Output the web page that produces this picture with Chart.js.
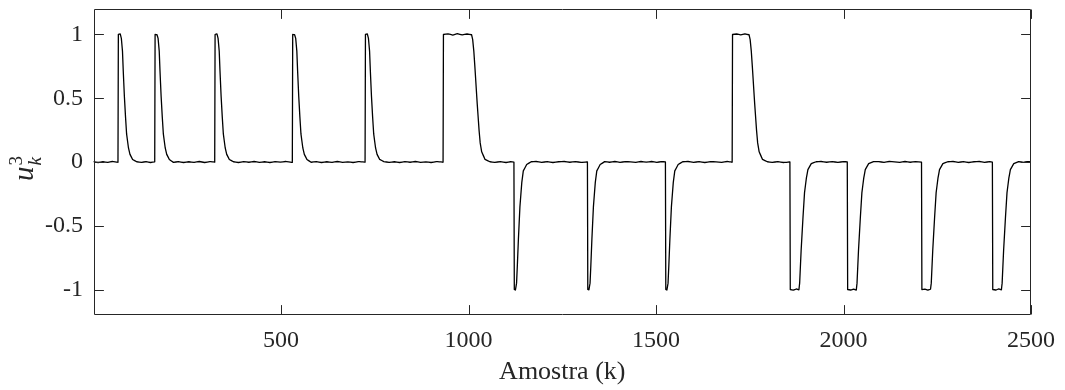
<!DOCTYPE html>
<html>
<head>
<meta charset="utf-8">
<script src="https://cdn.jsdelivr.net/npm/chart.js@4.4.1/dist/chart.umd.min.js"></script>
<style>
  html, body { margin: 0; padding: 0; background: #fff; }
  #plot { display: block; }
</style>
</head>
<body>
<canvas id="plot" width="1065" height="390"></canvas>
<script>
// Sample index k (one line per segment)
const amostraK = [
    0, 12, 25, 38, 50, 65,
    66, 71, 74, 77, 79, 82, 85, 88, 93, 97, 104, 115,
    128, 140, 152, 163,
    164, 169, 172, 175, 177, 180, 183, 186, 191, 195, 202, 213,
    226, 240, 254, 268, 282, 296, 310, 323,
    324, 329, 332, 335, 337, 340, 343, 346, 351, 355, 362, 373,
    386, 400, 414, 428, 442, 456, 470, 484, 498, 512, 530,
    531, 536, 539, 542, 544, 547, 550, 553, 558, 562, 569, 580,
    594, 608, 622, 636, 650, 664, 678, 692, 706, 724,
    725, 730, 733, 736, 738, 741, 744, 747, 752, 756, 763, 774,
    788, 802, 816, 830, 844, 858, 872, 886, 900, 914, 932,
    933, 945, 958, 970, 983, 996, 1008,
    1011, 1014, 1017, 1020, 1023, 1028, 1031, 1035, 1044, 1057,
    1070, 1085, 1100, 1112, 1121,
    1122, 1125, 1128, 1130, 1133, 1137, 1142, 1146, 1155, 1167,
    1180, 1195, 1210, 1225, 1240, 1255, 1270, 1285, 1300, 1317,
    1318, 1321, 1324, 1326, 1329, 1333, 1338, 1342, 1351, 1363,
    1376, 1390, 1404, 1418, 1432, 1446, 1460, 1474, 1488, 1502, 1514, 1525,
    1526, 1529, 1532, 1534, 1537, 1541, 1546, 1550, 1559, 1571,
    1585, 1600, 1615, 1630, 1645, 1660, 1675, 1690, 1703,
    1704, 1715, 1726, 1737, 1748,
    1751, 1754, 1757, 1760, 1763, 1768, 1771, 1775, 1784, 1797,
    1810, 1825, 1840, 1857,
    1858, 1866, 1874, 1881,
    1883, 1887, 1892, 1896, 1901, 1905, 1914, 1927,
    1940, 1955, 1970, 1985, 2000, 2010,
    2011, 2019, 2027, 2034,
    2036, 2040, 2045, 2049, 2054, 2058, 2067, 2080,
    2094, 2108, 2122, 2136, 2150, 2164, 2178, 2192, 2208,
    2209, 2217, 2225, 2232,
    2234, 2238, 2243, 2247, 2252, 2256, 2265, 2278,
    2292, 2306, 2320, 2334, 2348, 2362, 2376, 2390, 2397,
    2398, 2406, 2414, 2421,
    2423, 2427, 2432, 2436, 2441, 2445, 2454, 2467,
    2480, 2490, 2500
];

// u_k^3 at those samples
const u3 = [
    0.003, -0.004, 0.002, -0.003, 0.004, -0.002,
    1, 1.004, 0.97, 0.87, 0.72, 0.52, 0.36, 0.22, 0.11, 0.06, 0.02, 0.002,
    -0.003, 0.003, -0.004, 0.001,
    1, 0.998, 0.97, 0.87, 0.72, 0.52, 0.36, 0.22, 0.11, 0.06, 0.02, -0.003,
    0.003, -0.004, 0.002, -0.003, 0.004, -0.004, 0.003, -0.001,
    1, 1.005, 0.97, 0.87, 0.72, 0.52, 0.36, 0.22, 0.11, 0.06, 0.02, 0.002,
    -0.004, 0.003, -0.002, 0.004, -0.003, 0.002, -0.004, 0.003, -0.001, 0.004, -0.003,
    1, 0.998, 0.97, 0.87, 0.72, 0.52, 0.36, 0.22, 0.11, 0.06, 0.02, -0.002,
    0.003, -0.004, 0.002, -0.003, 0.004, -0.003, 0.001, -0.004, 0.003, -0.001,
    1, 1.004, 0.97, 0.87, 0.72, 0.52, 0.36, 0.22, 0.11, 0.06, 0.02, 0.003,
    -0.003, 0.002, -0.004, 0.003, -0.002, 0.004, -0.003, 0.001, -0.004, 0.003, -0.001,
    1, 1.005, 0.996, 1.006, 0.997, 1.004, 0.998,
    0.96, 0.87, 0.74, 0.6, 0.46, 0.25, 0.15, 0.08, 0.02, 0.002,
    -0.003, 0.003, -0.004, 0.002, -0.001,
    -1, -1.004, -0.95, -0.82, -0.6, -0.35, -0.16, -0.07, -0.02, 0.002,
    0.004, -0.003, 0.003, -0.004, 0.002, 0.004, -0.002, 0.003, -0.003, 0.001,
    -1, -1.003, -0.95, -0.82, -0.6, -0.35, -0.16, -0.07, -0.02, 0.003,
    -0.002, 0.004, -0.003, 0.003, 0.001, -0.003, 0.004, -0.001, 0.004, -0.003, 0.003, 0.001,
    -1, -1.004, -0.95, -0.82, -0.6, -0.35, -0.16, -0.07, -0.02, 0.002,
    0.004, -0.003, 0.003, -0.004, 0.003, 0.001, -0.003, 0.004, -0.001,
    1, 1.004, 0.997, 1.005, 0.998,
    0.96, 0.87, 0.74, 0.6, 0.46, 0.25, 0.15, 0.08, 0.02, 0.002,
    -0.003, 0.003, -0.004, 0.001,
    -1, -1.005, -0.996, -1.003,
    -0.95, -0.69, -0.43, -0.24, -0.125, -0.06, -0.013, 0.002,
    0.004, -0.002, 0.003, -0.003, 0.003, 0.001,
    -1, -1.004, -0.997, -1.005,
    -0.95, -0.69, -0.43, -0.24, -0.125, -0.06, -0.013, 0.003,
    0.003, -0.003, 0.004, 0.001, -0.003, 0.004, -0.002, 0.003, -0.001,
    -1, -0.997, -1.005, -0.998,
    -0.95, -0.69, -0.43, -0.24, -0.125, -0.06, -0.013, 0.002,
    0.004, -0.003, 0.003, -0.004, 0.002, 0.004, -0.003, 0.003, -0.001,
    -1, -1.004, -0.996, -1.003,
    -0.95, -0.69, -0.43, -0.24, -0.125, -0.06, -0.013, 0.003,
    -0.003, 0.003, 0.001
];

const xTicks = [500, 1000, 1500, 2000, 2500];
const yTicks = [-1, -0.5, 0, 0.5, 1];

const axisColor = '#262626';
const serif = '"Liberation Serif", "Times New Roman", serif';
const tickLen = 9.4;

if (amostraK.length !== u3.length) {
    console.warn('length mismatch', amostraK.length, u3.length);
}

const points = amostraK.map((k, i) => ({ x: k, y: u3[i] }));

// Box, inward ticks on all four sides and the u_k^3 label
const matlabFrame = {
    id: 'matlabFrame',
    afterDraw(chart) {
        const { ctx, chartArea: a, scales } = chart;
        const L = Math.round(a.left) + 0.5, R = Math.round(a.right) - 0.5;
        const T = Math.round(a.top) + 0.5, B = Math.round(a.bottom) - 0.5;
        ctx.save();
        ctx.strokeStyle = axisColor;
        ctx.lineWidth = 1;
        ctx.beginPath();
        ctx.rect(L, T, R - L, B - T);
        xTicks.forEach(v => {
            const px = Math.round(scales.x.getPixelForValue(v)) + 0.5;
            ctx.moveTo(px, B); ctx.lineTo(px, B - tickLen);
            ctx.moveTo(px, T); ctx.lineTo(px, T + tickLen);
        });
        yTicks.forEach(v => {
            const py = Math.round(scales.y.getPixelForValue(v)) + 0.5;
            ctx.moveTo(L, py); ctx.lineTo(L + tickLen, py);
            ctx.moveTo(R, py); ctx.lineTo(R - tickLen, py);
        });
        ctx.stroke();

        // y label: italic u with stacked superscript 3 and subscript k
        ctx.fillStyle = axisColor;
        ctx.translate(33, 181);
        ctx.rotate(-Math.PI / 2);
        ctx.textBaseline = 'alphabetic';
        ctx.textAlign = 'left';
        ctx.font = 'italic 29px ' + serif;
        ctx.fillText('u', 0, 0);
        const uw = ctx.measureText('u').width;
        ctx.font = '19px ' + serif;
        ctx.fillText('3', uw + 1, -11);
        ctx.font = 'italic 19px ' + serif;
        ctx.fillText('k', uw + 1, 8);
        ctx.restore();
    }
};

new Chart(document.getElementById('plot'), {
    type: 'line',
    data: {
        datasets: [{
            data: points,
            borderColor: '#000',
            borderWidth: 1.3,
            borderJoinStyle: 'round',
            borderCapStyle: 'round',
            pointRadius: 0,
            // tiny tension keeps Chart.js off its per-pixel fast path,
            // which drew small notches on the steep edges
            tension: 0.001,
            fill: false
        }]
    },
    options: {
        responsive: false,
        animation: false,
        devicePixelRatio: 1,
        layout: { padding: { left: 0, right: 34, top: 9, bottom: 0 } },
        plugins: { legend: { display: false }, tooltip: { enabled: false } },
        scales: {
            x: {
                type: 'linear',
                min: 0,
                max: 2500,
                afterBuildTicks: s => { s.ticks = xTicks.map(v => ({ value: v })); },
                afterFit: s => { s.height = 75; s.paddingLeft = 0; s.paddingRight = 0; },
                grid: { display: false, drawTicks: false },
                border: { display: false },
                ticks: {
                    padding: 11,
                    color: axisColor,
                    font: { family: serif, size: 24 },
                    maxRotation: 0,
                    callback: v => String(v)
                },
                title: {
                    display: true,
                    text: 'Amostra (k)',
                    color: axisColor,
                    font: { family: serif, size: 26 },
                    padding: { top: 0, bottom: 2 }
                }
            },
            y: {
                min: -1.2,
                max: 1.2,
                afterBuildTicks: s => { s.ticks = yTicks.map(v => ({ value: v })); },
                afterFit: s => { s.width = 93.6; s.paddingTop = 0; s.paddingBottom = 0; },
                grid: { display: false, drawTicks: false },
                border: { display: false },
                ticks: {
                    padding: 10.6,
                    color: axisColor,
                    font: { family: serif, size: 24 },
                    callback: v => String(v)
                }
            }
        }
    },
    plugins: [matlabFrame]
});
</script>
</body>
</html>
